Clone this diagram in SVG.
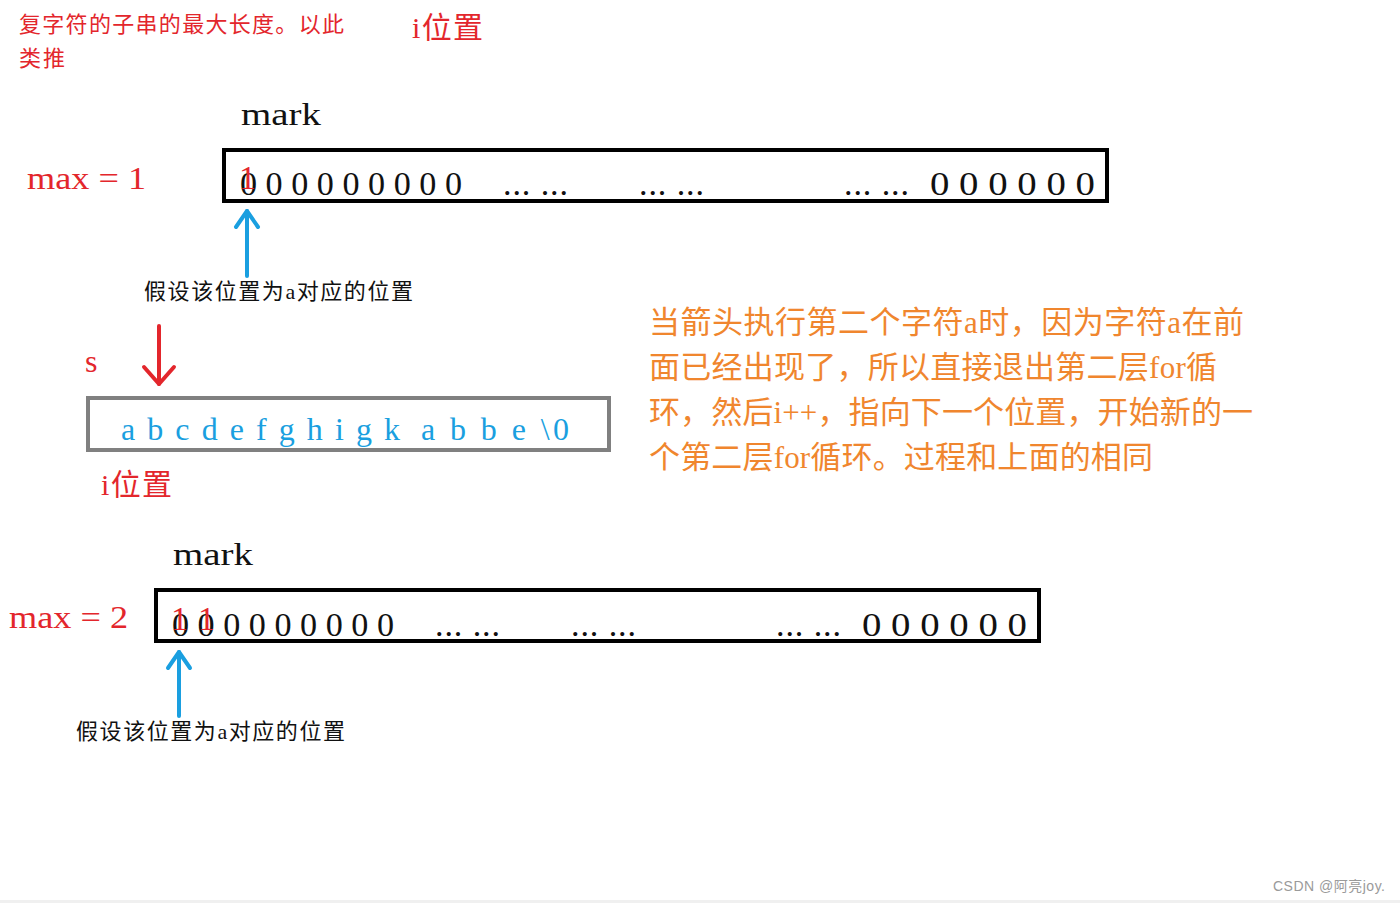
<svg xmlns="http://www.w3.org/2000/svg" width="1400" height="903" viewBox="0 0 1400 903">
<style>
.sf{font-family:"Liberation Serif","Noto Sans CJK SC",serif}
.ss{font-family:"Liberation Sans","Noto Sans CJK SC",sans-serif}
.red{fill:#e3262c}
.blk{fill:#111111}
.blue{fill:#1a9fe0}
.org{fill:#f0862e}
.box{fill:#ffffff;stroke:#000000;stroke-width:4}
.sbox{fill:#ffffff;stroke:#808080;stroke-width:4}
.dg{font-size:34px}
.lbl{font-size:32px}
.cn22{font-size:22px}
.cn30{font-size:30px}
.note{font-size:31px}
.conn{fill:none;stroke-width:4;stroke-linecap:round}
</style>
<defs>
<marker id="ahBlue" markerUnits="userSpaceOnUse" markerWidth="20" markerHeight="24" refX="16" refY="11" orient="auto" overflow="visible">
<path d="M0,0 L16,11 L0,22" fill="none" stroke="#1a9fe0" stroke-width="4" stroke-linecap="round" stroke-linejoin="round"/>
</marker>
<marker id="ahRed" markerUnits="userSpaceOnUse" markerWidth="20" markerHeight="32" refX="17" refY="15" orient="auto" overflow="visible">
<path d="M0,0 L17,15 L0,30" fill="none" stroke="#e3262c" stroke-width="4" stroke-linecap="round" stroke-linejoin="round"/>
</marker>
</defs>
<rect x="0" y="0" width="1400" height="903" fill="#ffffff"/>
<rect x="0" y="900" width="1400" height="3" fill="#f0f0f0"/>

<g id="top-note">
<text class="sf cn22 red" x="19" y="32" textLength="325">复字符的子串的最大长度。以此</text>
<text class="sf cn22 red" x="19" y="66" textLength="46">类推</text>
<text class="sf cn30 red" x="412" y="38" textLength="71">i位置</text>
</g>

<g id="mark-array-1">
<text class="sf lbl blk" x="241" y="125" textLength="80" lengthAdjust="spacingAndGlyphs">mark</text>
<text class="sf lbl red" x="27" y="189" textLength="119" lengthAdjust="spacingAndGlyphs">max = 1</text>
<rect class="box" x="224" y="150" width="883" height="51"/>
<text class="sf dg blk" x="240" y="195" textLength="222" lengthAdjust="spacingAndGlyphs">0 0 0 0 0 0 0 0 0</text>
<text class="sf dg blk" x="503" y="195" textLength="65">... ...</text>
<text class="sf dg blk" x="639" y="195" textLength="65">... ...</text>
<text class="sf dg blk" x="844" y="195" textLength="65">... ...</text>
<text class="sf dg blk" x="930" y="195" textLength="165" lengthAdjust="spacingAndGlyphs">0 0 0 0 0 0</text>
<text class="sf dg red" x="239" y="189">1</text>
<text class="sf cn22 blk" x="144" y="299" textLength="269">假设该位置为a对应的位置</text>
</g>

<g id="string-s">
<text class="sf lbl red" x="85" y="372">s</text>
<rect class="sbox" x="88" y="398" width="521" height="52"/>
<text class="sf lbl blue" x="121" y="440" textLength="279">a b c d e f g h i g k</text>
<text class="sf lbl blue" x="421" y="440" textLength="148">a b b e \0</text>
<text class="sf cn30 red" x="101" y="495" textLength="71">i位置</text>
</g>

<g id="explanation">
<text class="sf note org" x="649" y="333" textLength="595">当箭头执行第二个字符a时，因为字符a在前</text>
<text class="sf note org" x="649" y="378" textLength="568">面已经出现了，所以直接退出第二层for循</text>
<text class="sf note org" x="649" y="423" textLength="604">环，然后i++，指向下一个位置，开始新的一</text>
<text class="sf note org" x="649" y="468" textLength="504">个第二层for循环。过程和上面的相同</text>
</g>

<g id="mark-array-2">
<text class="sf lbl blk" x="173" y="565" textLength="80" lengthAdjust="spacingAndGlyphs">mark</text>
<text class="sf lbl red" x="9" y="628" textLength="119" lengthAdjust="spacingAndGlyphs">max = 2</text>
<rect class="box" x="156" y="590" width="883" height="51"/>
<text class="sf dg blk" x="172" y="636" textLength="222" lengthAdjust="spacingAndGlyphs">0 0 0 0 0 0 0 0 0</text>
<text class="sf dg blk" x="435" y="636" textLength="65">... ...</text>
<text class="sf dg blk" x="571" y="636" textLength="65">... ...</text>
<text class="sf dg blk" x="776" y="636" textLength="65">... ...</text>
<text class="sf dg blk" x="862" y="636" textLength="165" lengthAdjust="spacingAndGlyphs">0 0 0 0 0 0</text>
<text class="sf dg red" x="171" y="630">1</text>
<text class="sf dg red" x="198" y="630">1</text>
<text class="sf cn22 blk" x="76" y="739" textLength="269">假设该位置为a对应的位置</text>
</g>

<g id="connectors">
<path class="conn" stroke="#1a9fe0" d="M247,276 L247,211" marker-end="url(#ahBlue)"/>
<path class="conn" stroke="#e3262c" d="M159,326 L159,384" marker-end="url(#ahRed)"/>
<path class="conn" stroke="#1a9fe0" d="M179,716 L179,652" marker-end="url(#ahBlue)"/>
</g>

<g id="watermark">
<text class="ss" x="1273" y="891" font-size="14" fill="#9a9a9a" textLength="112">CSDN @阿亮joy.</text>
</g>
</svg>
